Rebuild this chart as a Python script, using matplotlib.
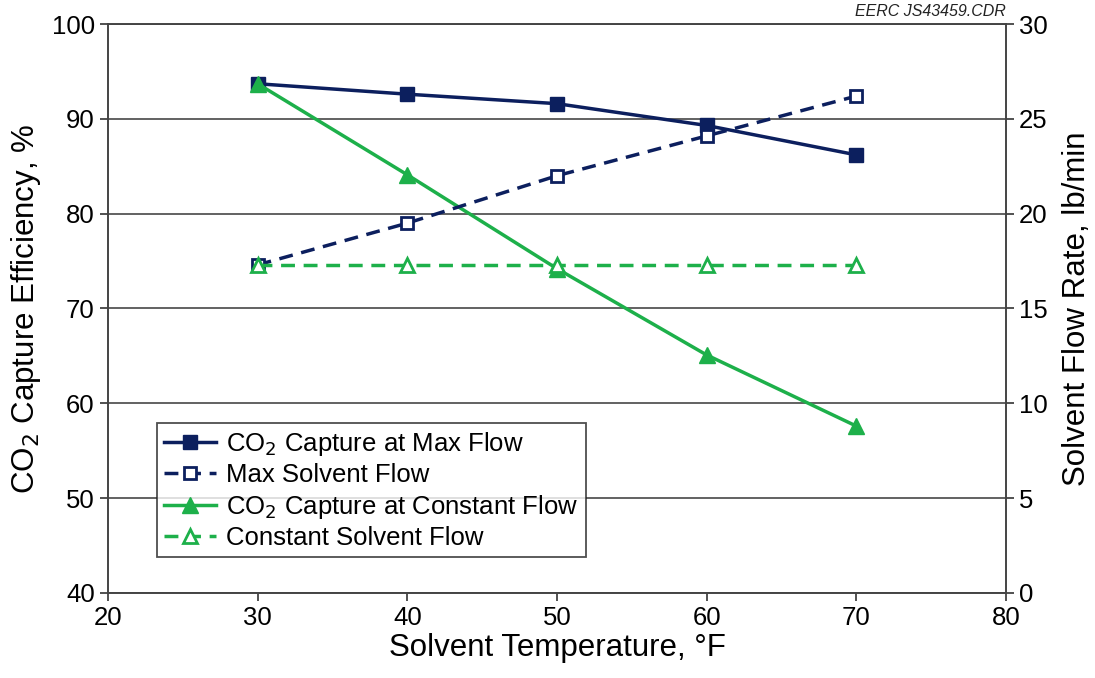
import matplotlib
matplotlib.use("Agg")
import matplotlib.pyplot as plt

plt.rcParams['font.family'] = ['Liberation Sans', 'DejaVu Sans']

# Solvent temperature, F
temps = [30, 40, 50, 60, 70]
# CO2 capture efficiency, %
capture_max_flow = [93.7, 92.6, 91.6, 89.3, 86.2]
capture_const_flow = [93.7, 84.1, 74.2, 65.1, 57.6]
# Solvent flow rate, lb/min
max_solvent_flow = [17.3, 19.5, 22.0, 24.1, 26.2]
const_solvent_flow = [17.3, 17.3, 17.3, 17.3, 17.3]

NAVY = '#0c1f5e'
GREEN = '#1db04a'

fig = plt.figure(figsize=(10.95, 6.78), dpi=100)
ax = fig.add_axes([0.0986, 0.1254, 0.8201, 0.8392])
ax2 = ax.twinx()

ax.set_xlim(20, 80)
ax.set_ylim(40, 100)
ax2.set_ylim(0, 30)
ax.set_xticks(range(20, 81, 10))
ax.set_yticks(range(40, 101, 10))
ax2.set_yticks(range(0, 31, 5))
ax.yaxis.grid(True, color='#555555', linewidth=1.3)
ax.set_axisbelow(True)

for a in (ax, ax2):
    a.tick_params(direction='out', length=6, width=1.2, labelsize=18.5, color='#333333')
    for s in a.spines.values():
        s.set_color('#444444')
        s.set_linewidth(1.2)

dashed = (0, (4, 2.5))

l1, = ax.plot(temps, capture_max_flow, color=NAVY, lw=2.5, marker='s', ms=9.5,
              label='CO$_2$ Capture at Max Flow')
l3, = ax.plot(temps, capture_const_flow, color=GREEN, lw=2.5, marker='^', ms=11,
              label='CO$_2$ Capture at Constant Flow')
l2, = ax2.plot(temps, max_solvent_flow, color=NAVY, lw=2.5, ls=dashed, marker='s',
               ms=9, mfc='white', mew=2, label='Max Solvent Flow')
l4, = ax2.plot(temps, const_solvent_flow, color=GREEN, lw=2.5, ls=dashed, marker='^',
               ms=9.5, mfc='white', mew=2, label='Constant Solvent Flow')

ax.set_xlabel('Solvent Temperature, °F', fontsize=22.5, labelpad=2)
ax.set_ylabel('CO$_2$ Capture Efficiency, %', fontsize=22.5, labelpad=6)
ax2.set_ylabel('Solvent Flow Rate, lb/min', fontsize=22.5, labelpad=10)

leg = ax2.legend(handles=[l1, l2, l3, l4], loc='lower left', bbox_to_anchor=(0.04, 0.04),
                 fontsize=18.5, frameon=True, fancybox=False, edgecolor='#222222',
                 handlelength=2.0, handletextpad=0.4, borderpad=0.3, labelspacing=0.2)
leg.get_frame().set_linewidth(1.3)

fig.text(0.9187, 0.972, 'EERC JS43459.CDR', ha='right', va='bottom', fontsize=11.5,
         style='italic', color='#222222')

fig.savefig('out.png', dpi=100)
